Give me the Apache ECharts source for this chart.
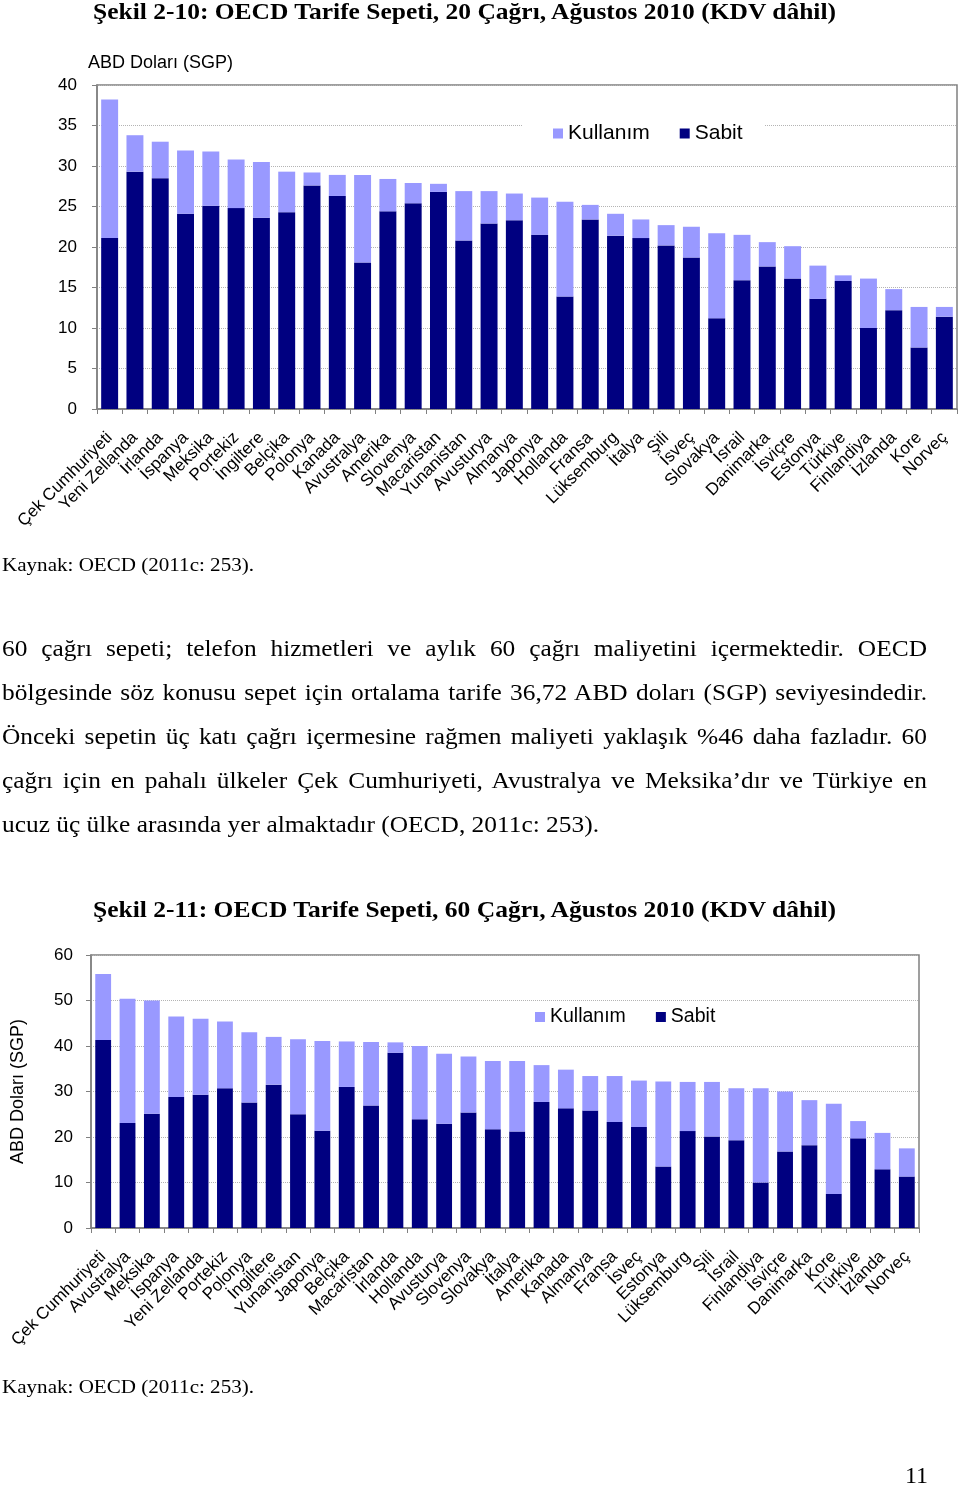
<!DOCTYPE html>
<html><head><meta charset="utf-8">
<script src="https://cdn.jsdelivr.net/npm/echarts@6/dist/echarts.min.js"></script>
<style>
html,body{margin:0;padding:0;background:#fff;}
#page{position:relative;width:960px;height:1487px;overflow:hidden;background:#fff;}
#chart{position:absolute;left:0;top:0;width:960px;height:1487px;}
.t{position:absolute;font-family:'Liberation Serif','Times New Roman',serif;color:#000;white-space:nowrap;transform-origin:0 50%;}
.ttl{font-weight:bold;font-size:23px;line-height:30px;}
.src{font-size:19px;line-height:26px;}
.ln{font-size:23.5px;line-height:44px;}
</style></head>
<body><div id="page"><div id="chart"></div></div>
<script>
// ---- Data ----
const cats1 = ['Çek Cumhuriyeti','Yeni Zellanda','İrlanda','İspanya','Meksika','Portekiz','İngiltere','Belçika','Polonya','Kanada','Avustralya','Amerika','Slovenya','Macaristan','Yunanistan','Avusturya','Almanya','Japonya','Hollanda','Fransa','Lüksemburg','İtalya','Şili','İsveç','Slovakya','İsrail','Danimarka','İsviçre','Estonya','Türkiye','Finlandiya','İzlanda','Kore','Norveç'];
const sabit1 = [21.1,29.3,28.5,24.1,25.1,24.8,23.6,24.3,27.6,26.3,18.1,24.4,25.4,26.8,20.8,22.9,23.3,21.5,13.9,23.4,21.4,21.1,20.2,18.7,11.2,15.9,17.6,16.1,13.6,15.8,10.0,12.2,7.6,11.4];
const kullanim1 = [17.1,4.5,4.5,7.8,6.7,6.0,6.9,5.0,1.6,2.6,10.8,4.0,2.5,1.0,6.1,4.0,3.3,4.6,11.7,1.8,2.7,2.3,2.5,3.8,10.5,5.6,3.0,4.0,4.1,0.7,6.1,2.6,5.0,1.2];

const cats2 = ['Çek Cumhuriyeti','Avustralya','Meksika','İspanya','Yeni Zellanda','Portekiz','Polonya','İngiltere','Yunanistan','Japonya','Belçika','Macaristan','İrlanda','Hollanda','Avusturya','Slovenya','Slovakya','İtalya','Amerika','Kanada','Almanya','Fransa','İsveç','Estonya','Lüksemburg','Şili','İsrail','Finlandiya','İsviçre','Danimarka','Kore','Türkiye','İzlanda','Norveç'];
const sabit2 = [41.3,23.1,25.1,28.8,29.3,30.7,27.6,31.5,25.0,21.4,31.0,26.9,38.5,23.9,22.9,25.4,21.7,21.2,27.7,26.3,25.8,23.3,22.2,13.5,21.3,20.1,19.3,10.0,16.8,18.2,7.5,19.7,12.9,11.3];
const kullanim2 = [14.5,27.3,24.9,17.7,16.7,14.7,15.4,10.5,16.5,19.7,10.0,14.0,2.3,16.1,15.4,12.3,15.0,15.5,8.1,8.5,7.6,10.1,10.2,18.7,10.8,12.0,11.4,20.7,13.2,9.9,19.8,3.8,8.0,6.2];

const yTicks1 = {min:0, max:40, interval:5};
const yTicks2 = {min:0, max:60, interval:10};

const seriesNames = ['Kullanım','Sabit'];
const title1 = 'Şekil 2-10: OECD Tarife Sepeti, 20 Çağrı, Ağustos 2010 (KDV dâhil)';
const title2 = 'Şekil 2-11: OECD Tarife Sepeti, 60 Çağrı, Ağustos 2010 (KDV dâhil)';
const axisName = 'ABD Doları (SGP)';
const sourceText = 'Kaynak: OECD (2011c: 253).';
const paraLines = [
 '60 çağrı sepeti; telefon hizmetleri ve aylık 60 çağrı maliyetini içermektedir. OECD',
 'bölgesinde söz konusu sepet için ortalama tarife 36,72 ABD doları (SGP) seviyesindedir.',
 'Önceki sepetin üç katı çağrı içermesine rağmen maliyeti yaklaşık %46 daha fazladır. 60',
 'çağrı için en pahalı ülkeler Çek Cumhuriyeti, Avustralya ve Meksika’dır ve Türkiye en',
 'ucuz üç ülke arasında yer almaktadır (OECD, 2011c: 253).'
];
const pageNum = '11';

// ---- Page text ----
const page = document.getElementById('page');
function addText(txt, cls, left, centerY, lh, targetW){
  const d = document.createElement('div');
  d.className = 't ' + cls;
  d.textContent = txt;
  d.style.left = left + 'px';
  d.style.top = (centerY - lh/2) + 'px';
  page.appendChild(d);
  if (targetW){
    const w = d.getBoundingClientRect().width;
    d.style.transform = 'scaleX(' + (targetW / w) + ')';
  }
  return d;
}
addText(title1, 'ttl', 93, 12, 30, 743);
addText(title2, 'ttl', 93, 910, 30, 743);
addText(sourceText, 'src', 2, 565, 26, 252);
addText(sourceText, 'src', 2, 1387, 26, 252);
const pn = addText(pageNum, 'src', 905, 1475, 26, null);
pn.style.fontSize = '24px';

// paragraph: last line sets scale, others justified to full width
const lineEls = paraLines.map((l,i)=>addText(l,'ln',2,648+i*44,44,null));
const wLast = lineEls[4].getBoundingClientRect().width;
const s = 597 / wLast;
lineEls.forEach((el,i)=>{
  if (i < 4){
    const w = el.getBoundingClientRect().width;
    const n = (paraLines[i].match(/ /g)||[]).length;
    el.style.wordSpacing = ((925/s - w)/n) + 'px';
  }
  el.style.transform = 'scaleX(' + s + ')';
});

// ---- Chart ----
const LIGHT = '#9999FF', NAVY = '#000080';
const sans = "'Liberation Sans', Arial, sans-serif";
const chart = echarts.init(document.getElementById('chart'), null, {renderer:'canvas'});
function xAx(gi, cats){
  return {type:'category', gridIndex:gi, data:cats,
    axisLine:{show:true, lineStyle:{color:'#808080', width:1.5}},
    axisTick:{show:true, length:5, lineStyle:{color:'#808080'}},
    axisLabel:{interval:0, rotate:45, fontSize:17, fontFamily:sans, color:'#000', margin:26}};
}
function yAx(gi, t, margin){
  return {type:'value', gridIndex:gi, min:t.min, max:t.max, interval:t.interval,
    axisLine:{show:true, lineStyle:{color:'#808080', width:1.5}},
    axisTick:{show:true, length:5, lineStyle:{color:'#808080'}},
    axisLabel:{fontSize:17, fontFamily:sans, color:'#000', margin:margin},
    splitLine:{show:true, lineStyle:{color:'#b4b4b4', type:'dotted', width:1}}};
}
const y2 = yAx(1, yTicks2, 18);
y2.name = axisName; y2.nameLocation='middle'; y2.nameRotate=90; y2.nameGap=64;
y2.nameTextStyle = {fontSize:18, fontFamily:sans, color:'#000'};

function bar(name, data, xi, stack, gap, color){
  return {type:'bar', name:name, data:data, xAxisIndex:xi, yAxisIndex:xi, stack:stack,
    barCategoryGap:gap, itemStyle:{color:color}, emphasis:{disabled:true}};
}

chart.setOption({
  animation:false,
  grid:[
    {left:97, top:85, width:860, height:324, show:true, borderColor:'#808080', borderWidth:1.5, backgroundColor:'transparent'},
    {left:91, top:955, width:828, height:273, show:true, borderColor:'#808080', borderWidth:1.5, backgroundColor:'transparent'}
  ],
  xAxis:[xAx(0,cats1), xAx(1,cats2)],
  yAxis:[yAx(0,yTicks1,20), y2],
  legend:[
    {data:seriesNames, left:523, top:118, padding:[5,22,5,30], itemGap:30, itemWidth:10, itemHeight:10,
     icon:'rect', backgroundColor:'#fff', selectedMode:false, textStyle:{fontSize:21, fontFamily:sans, color:'#000'}},
    {data:seriesNames, left:530, top:1004, padding:[3,5,3,5], itemGap:30, itemWidth:10, itemHeight:10,
     icon:'rect', backgroundColor:'#fff', selectedMode:false, textStyle:{fontSize:19.5, fontFamily:sans, color:'#000'}}
  ],
  graphic:[{type:'text', left:88, top:54, style:{text:axisName, font:"18px 'Liberation Sans', Arial, sans-serif", fill:'#000'}}],
  series:[
    bar('Sabit', sabit1, 0, 'a', '33%', NAVY),
    bar('Kullanım', kullanim1, 0, 'a', '33%', LIGHT),
    bar('Sabit', sabit2, 1, 'b', '35%', NAVY),
    bar('Kullanım', kullanim2, 1, 'b', '35%', LIGHT)
  ]
});
</script></body></html>
